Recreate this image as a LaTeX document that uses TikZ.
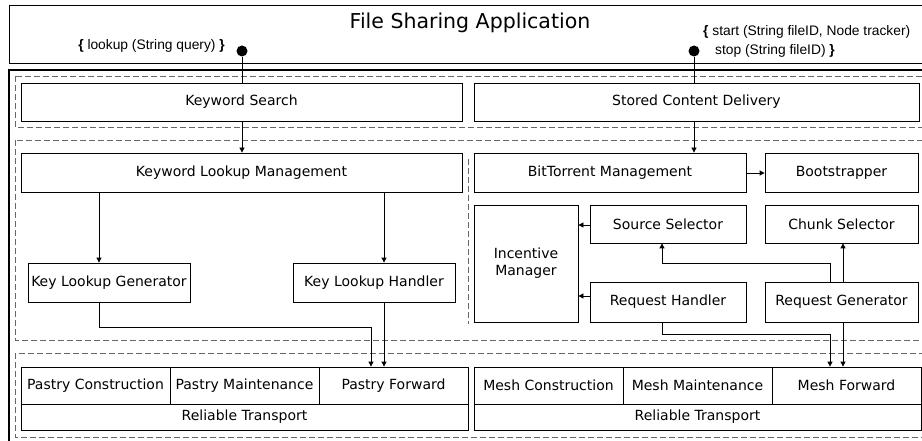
\documentclass[tikz,border=0pt]{standalone}
\usepackage{fontspec}
\setmainfont{DejaVu Sans}
\newfontfamily\arialf{Liberation Sans}
\usetikzlibrary{arrows.meta}
\begin{document}
\begin{tikzpicture}[x=1pt,y=-1pt,
  box/.style={draw, line width=0.8pt, inner sep=0pt, font=\fontsize{14}{17}\selectfont, align=center},
  arr/.style={-{Triangle[length=5pt,width=5pt]}, line width=0.8pt},
  ln/.style={line width=0.8pt},
  dbox/.style={draw=black!60, dash pattern=on 6pt off 3pt, line width=0.8pt},
  lbl/.style={inner sep=0pt, font=\arialf\fontsize{13.8}{19}\selectfont},
  dot/.style={circle, fill=black, inner sep=0pt, minimum size=11pt}]
\useasboundingbox (0,0) rectangle (922,441);
% frames
\draw[line width=0.8pt] (9,5) rectangle (935,63);
\draw[line width=2pt] (9,70) rectangle (935,460);
\draw[dbox] (15,76) rectangle (935,127);
\draw[dbox] (15,140) rectangle (935,340);
\draw[dbox] (15,353) rectangle (935,437);
\draw[dbox] (468,159) -- (468,324);
% title and interface labels
\node[inner sep=0pt, font=\fontsize{20.5}{24}\selectfont] (title) at (470,23) {File Sharing Application};
\node[lbl, anchor=east] (l1) at (225,46) {{\bfseries\{} lookup (String query) {\bfseries\}}};
\node[lbl, anchor=west, align=left] (l2) at (703,41.5) {{\bfseries\{} start (String fileID, Node tracker)\\\hspace*{12pt}stop (String fileID) {\bfseries\}}};
\node[dot] (d1) at (242,51) {};
\node[dot] (d2) at (694,51) {};
% boxes
\node[box, minimum width=441pt, minimum height=38pt] (KS) at (241.5,102) {Keyword Search};
\node[box, minimum width=445pt, minimum height=38pt] (SCD) at (696.5,102) {Stored Content Delivery};
\node[box, minimum width=441pt, minimum height=39pt] (KLM) at (241.5,172.5) {Keyword Lookup Management};
\node[box, minimum width=272pt, minimum height=39pt] (BTM) at (610,172.5) {BitTorrent Management};
\node[box, minimum width=153pt, minimum height=39pt] (BS) at (841.5,172.5) {Bootstrapper};
\node[box, minimum width=162pt, minimum height=39pt] (KLG) at (109,282.5) {Key Lookup Generator};
\node[box, minimum width=162pt, minimum height=39pt] (KLH) at (374,282.5) {Key Lookup Handler};
\node[box, minimum width=104pt, minimum height=117pt] (IM) at (526,263.5) {Incentive\\Manager};
\node[box, minimum width=156pt, minimum height=38pt] (SS) at (668,224) {Source Selector};
\node[box, minimum width=153pt, minimum height=38pt] (CS) at (841.5,224) {Chunk Selector};
\node[box, minimum width=156pt, minimum height=40pt] (RH) at (668,302) {Request Handler};
\node[box, minimum width=153pt, minimum height=40pt] (RG) at (841.5,302) {Request Generator};
\node[box, minimum width=149pt, minimum height=37pt] (PC) at (95.5,385.5) {Pastry Construction};
\node[box, minimum width=149pt, minimum height=37pt] (PM) at (244.5,385.5) {Pastry Maintenance};
\node[box, minimum width=149pt, minimum height=37pt] (PF) at (393.5,385.5) {Pastry Forward};
\node[box, minimum width=447pt, minimum height=26pt] (RT1) at (244.5,417) {Reliable Transport};
\node[box, minimum width=149pt, minimum height=37pt] (MC) at (548.5,385.5) {Mesh Construction};
\node[box, minimum width=149pt, minimum height=37pt] (MM) at (697.5,385.5) {Mesh Maintenance};
\node[box, minimum width=149pt, minimum height=37pt] (MF) at (846.5,385.5) {Mesh Forward};
\node[box, minimum width=447pt, minimum height=26pt] (RT2) at (697.5,417) {Reliable Transport};
% helper coordinates
\coordinate (xA) at (99,0);
\coordinate (xB) at (371,0);
\coordinate (xC) at (384,0);
\coordinate (xE) at (830,0);
\coordinate (xF) at (843,0);
\coordinate (xG) at (662,0);
\coordinate (yA) at (0,327);
\coordinate (yB) at (0,263);
\coordinate (yC) at (0,334);
\coordinate (yD) at (0,225);
\coordinate (yE) at (0,296);
\coordinate (yF) at (0,173);
% connectors
\draw[ln] (d1) -- (KS.north -| d1);
\draw[ln] (d2) -- (SCD.north -| d2);
\draw[arr] (KS.south -| d1) -- (KLM.north -| d1);
\draw[arr] (SCD.south -| d2) -- (BTM.north -| d2);
\draw[arr] (KLM.south -| xA) -- (KLG.north -| xA);
\draw[arr] (KLM.south -| xC) -- (KLH.north -| xC);
\draw[arr] (KLG.south -| xA) |- (yA -| xB) -- (PF.north -| xB);
\draw[arr] (KLH.south -| xC) -- (PF.north -| xC);
\draw[arr] (BTM.east |- yF) -- (BS.west |- yF);
\draw[arr] (SS.west |- yD) -- (IM.east |- yD);
\draw[arr] (RH.west |- yE) -- (IM.east |- yE);
\draw[arr] (RG.north -| xE) |- (yB -| xG) -- (SS.south -| xG);
\draw[arr] (RG.north -| xF) -- (CS.south -| xF);
\draw[arr] (RH.south -| xG) |- (yC -| xE) -- (MF.north -| xE);
\draw[arr] (RG.south -| xF) -- (MF.north -| xF);
\end{tikzpicture}
\end{document}
